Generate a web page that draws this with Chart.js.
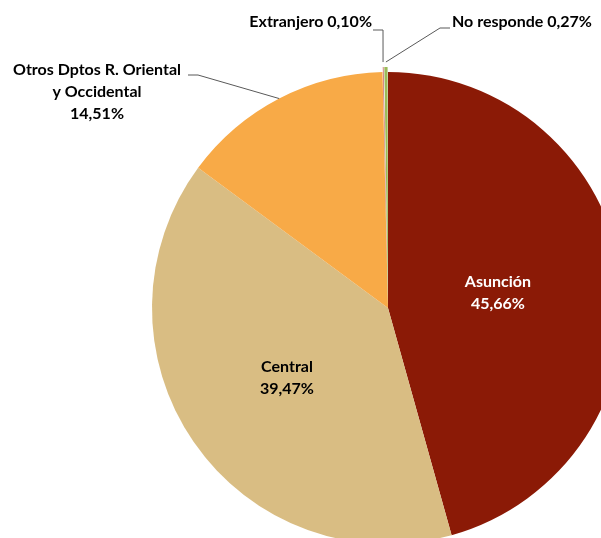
<!DOCTYPE html>
<html>
<head>
<meta charset="utf-8">
<script src="https://cdn.jsdelivr.net/npm/chart.js@4/dist/chart.umd.min.js"></script>
<style>
  html, body { margin: 0; padding: 0; width: 601px; height: 538px; overflow: hidden; background: #fff; }
  canvas { position: absolute; left: 0; top: 0; }
</style>
</head>
<body>
<canvas id="pieChart" width="776" height="616"></canvas>
<script>
// data
const categories = ['Asunción', 'Central', 'Otros Dptos R. Oriental y Occidental', 'Extranjero', 'No responde'];
const shares = [45.66, 39.47, 14.51, 0.10, 0.27];
const labelNames = [['Asunción'], ['Central'], ['Otros Dptos R. Oriental', 'y Occidental'], ['Extranjero'], ['No responde']];

// style
const sliceColors = ['#8B1A06', '#D9BD83', '#F8AA47', '#C0504D', '#9BBB59'];
const sliceOffsets = [0, 0, 0, 10, 10];
const LABEL_FONT = 'bold 16px Lato';
const LINE_H = 22;

// how each label sits: inside the slice, or outside with a leader line
const labelLayout = [
  { inside: true, r: 0.47, color: '#fff' },
  { inside: true, r: 0.52, color: '#000' },
  { x: 97, y: 70, align: 'center', elbow: [198, 75], end: [188, 75] },
  { x: 372, y: 22, align: 'right', oneLine: true, elbow: [383, 30], end: [373, 30] },
  { x: 452, y: 22, align: 'left', oneLine: true, elbow: [440, 28], end: [450, 28] },
];

const fmtPct = v => v.toFixed(2).replace('.', ',') + '%';

const pieLabels = {
  id: 'pieLabels',
  afterDatasetsDraw(chart) {
    const ctx = chart.ctx;
    const meta = chart.getDatasetMeta(0);
    ctx.save();
    ctx.font = LABEL_FONT;
    ctx.textBaseline = 'middle';
    meta.data.forEach((arc, i) => {
      const p = arc.getProps(['x', 'y', 'startAngle', 'endAngle', 'outerRadius']);
      const mid = (p.startAngle + p.endAngle) / 2;
      const lay = labelLayout[i];
      const pct = fmtPct(shares[i]);
      if (lay.inside) {
        const cx = p.x + Math.cos(mid) * p.outerRadius * lay.r;
        const cy = p.y + Math.sin(mid) * p.outerRadius * lay.r;
        const lines = [...labelNames[i], pct];
        ctx.fillStyle = lay.color;
        ctx.textAlign = 'center';
        lines.forEach((t, k) => ctx.fillText(t, cx, cy + (k - (lines.length - 1) / 2) * LINE_H));
        return;
      }
      // leader line from slice edge
      const r = p.outerRadius + sliceOffsets[i];
      const ex = p.x + Math.cos(mid) * r;
      const ey = p.y + Math.sin(mid) * r;
      ctx.strokeStyle = '#595959';
      ctx.lineWidth = 1;
      ctx.beginPath();
      ctx.moveTo(ex, ey);
      ctx.lineTo(lay.elbow[0], lay.elbow[1]);
      ctx.lineTo(lay.end[0], lay.end[1]);
      ctx.stroke();

      const lines = lay.oneLine ? [labelNames[i][0] + ' ' + pct] : [...labelNames[i], pct];
      ctx.fillStyle = '#000';
      ctx.textAlign = lay.align;
      lines.forEach((t, k) => ctx.fillText(t, lay.x, lay.y + k * LINE_H));
    });
    ctx.restore();
  },
};

new Chart(document.getElementById('pieChart').getContext('2d'), {
  type: 'pie',
  data: {
    labels: categories,
    datasets: [{
      data: shares,
      backgroundColor: sliceColors,
      borderWidth: 0,
      offset: sliceOffsets,
    }],
  },
  options: {
    responsive: false,
    animation: false,
    radius: 236,
    layout: { padding: 0 },
    plugins: { legend: { display: false }, tooltip: { enabled: false } },
  },
  plugins: [pieLabels],
});
</script>
</body>
</html>
